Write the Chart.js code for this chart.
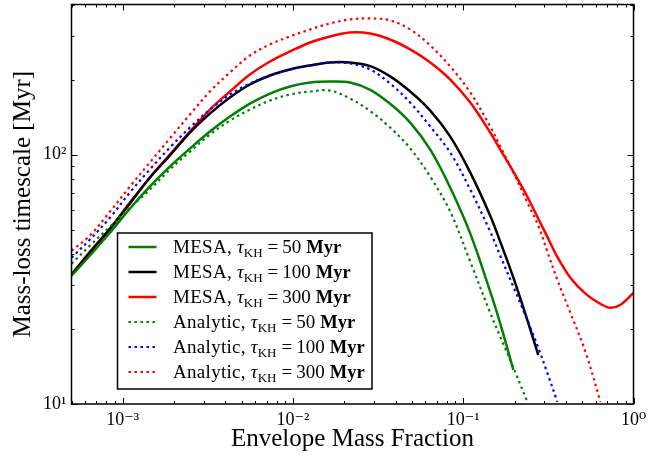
<!DOCTYPE html>
<html>
<head>
<meta charset="utf-8">
<script src="https://cdn.jsdelivr.net/npm/chart.js@4.4.1/dist/chart.umd.min.js"></script>
<style>
html, body { margin: 0; padding: 0; background: #fff; }
#wrap { width: 659px; height: 455px; }
</style>
</head>
<body>
<div id="wrap"><canvas id="massLoss"></canvas></div>
<script>
// envelope mass fraction (shared x grid for all curves)
const envFrac = [5.0e-4, 6.4e-4, 8.4e-4, 1.10e-3, 1.44e-3, 1.89e-3, 2.48e-3, 3.25e-3, 4.26e-3, 5.58e-3,
  7.32e-3, 9.6e-3, 0.0126, 0.0165, 0.0216, 0.0284, 0.0372, 0.0488, 0.064, 0.0839,
  0.110, 0.144, 0.165, 0.197, 0.238, 0.276, 0.312, 0.357, 0.426, 0.522,
  0.64, 0.733, 0.839, 1.0];

// mass-loss timescale [Myr]
const mesa50 = [32.7, 39.3, 48.6, 60.7, 74.4, 89.5, 105.7, 123.7, 142.1, 160.2,
  175.8, 187.6, 194.6, 196.4, 194.6, 182.0, 160.0, 134.4, 104.7, 73.7,
  48.2, 28.2, 21.0, 13.7, null, null, null, null, null, null,
  null, null, null, null];
const mesa100 = [33.0, 40.4, 50.4, 63.6, 80.8, 99.1, 122.6, 146.1, 169.4, 191.1,
  207.7, 219.5, 227.8, 234.2, 234.2, 226.5, 206.0, 179.1, 150.2, 118.1,
  84.7, 56.9, 44.7, 32.1, 21.7, 15.7, null, null, null, null,
  null, null, null, null];
const mesa300 = [33.0, 40.8, 50.4, 64.2, 80.8, 100, 123.7, 151.6, 179.1, 209.6,
  236.3, 259.2, 281.7, 297.8, 309.0, 306.2, 289.6, 264.1, 234.2, 200.1,
  161.7, 122.6, 104.7, 85.4, 67.8, 55.3, 46.8, 38.9, 32.1, 27.7,
  25.2, 24.3, 25.0, 27.9];
const analytic50 = [36.5, 43.1, 51.4, 61.2, 72.3, 87.1, 102.8, 120.3, 136.9, 151.6,
  164.8, 174.2, 179.1, 180.7, 168.0, 149.5, 128.4, 106.0, 81.6, 59.0,
  37.2, 23.2, 18.6, 14.0, 10.2, null, null, null, null, null,
  null, null, null, null];
const analytic100 = [38.6, 45.6, 55.8, 70.4, 87.1, 106.7, 128.4, 151.6, 174.2, 192.8,
  207.7, 219.5, 227.8, 234.2, 232.0, 219.5, 192.8, 161.7, 129.6, 101.9,
  72.3, 49.1, 39.3, 29.5, 21.7, 16.8, 13.3, 10.2, null, null,
  null, null, null, null];
const analytic300 = [41.2, 47.3, 59.0, 74.4, 92.9, 116.0, 144.8, 179.1, 213.5, 249.8,
  276.6, 297.8, 317.7, 335.8, 348.5, 351.8, 345.3, 317.7, 274.1, 225.6,
  177.5, 129.6, 107.7, 84.7, 64.2, 51.9, 40.8, 31.5, 23.2, 16.2,
  10.2, null, null, null];

const seriesNames = ['MESA', 'MESA', 'MESA', 'Analytic', 'Analytic', 'Analytic'];
const tauValues = ['50', '100', '300', '50', '100', '300'];

const xTickValues = [1e-3, 1e-2, 1e-1, 1];
const xTickLabels = ['10\u207B\u00B3', '10\u207B\u00B2', '10\u207B\u00B9', '10\u2070'];
const yTickValues = [10, 100];
const yTickLabels = ['10\u00B9', '10\u00B2'];

const SERIF = "'Liberation Serif', 'DejaVu Serif', serif";

function pts(ys) {
    return envFrac.map((x, i) => ({ x: x, y: ys[i] }));
}

// 1..9 x 10^n ticks inside [lo, hi]
function decadeTicks(lo, hi) {
    const out = [];
    for (let e = Math.floor(Math.log10(lo)); e <= Math.ceil(Math.log10(hi)); e++) {
        for (let k = 1; k < 10; k++) {
            const v = k * Math.pow(10, e);
            if (v >= lo * 0.999 && v <= hi * 1.001) out.push({ value: v });
        }
    }
    return out;
}

function labelFor(v, vals, labels) {
    for (let i = 0; i < vals.length; i++) {
        if (Math.abs(Math.log10(v) - Math.log10(vals[i])) < 1e-6) return labels[i];
    }
    return '';
}

function solid(label, color, ys) {
    return { label: label, data: pts(ys), borderColor: color, backgroundColor: color,
        borderWidth: 2.5, pointRadius: 0, tension: 0.35, fill: false, order: 2 };
}
function dotted(label, color, ys) {
    return { label: label, data: pts(ys), borderColor: color, backgroundColor: color,
        borderWidth: 2.2, borderDash: [2.5, 3.5], pointRadius: 0, tension: 0.35, fill: false, order: 1 };
}

// inward ticks on all four sides, frame, and the legend with subscripts
const framePlugin = {
    id: 'frame',
    afterDraw(chart) {
        const ctx = chart.ctx;
        const a = chart.chartArea;
        const xs = chart.scales.x, ys = chart.scales.y;
        ctx.save();
        ctx.strokeStyle = '#000';
        ctx.lineWidth = 1;
        ctx.beginPath();
        xs.ticks.forEach(t => {
            const major = labelFor(t.value, xTickValues, xTickLabels) !== '';
            const len = major ? 6 : 3;
            const px = Math.round(xs.getPixelForValue(t.value)) + 0.5;
            ctx.moveTo(px, a.bottom); ctx.lineTo(px, a.bottom - len);
            ctx.moveTo(px, a.top); ctx.lineTo(px, a.top + len);
        });
        ys.ticks.forEach(t => {
            const major = labelFor(t.value, yTickValues, yTickLabels) !== '';
            const len = major ? 6 : 3;
            const py = Math.round(ys.getPixelForValue(t.value)) + 0.5;
            ctx.moveTo(a.left, py); ctx.lineTo(a.left + len, py);
            ctx.moveTo(a.right, py); ctx.lineTo(a.right - len, py);
        });
        ctx.stroke();
        ctx.lineWidth = 1.5;
        ctx.strokeRect(a.left, a.top, a.right - a.left, a.bottom - a.top);

        // legend
        const lx = a.left + 46, ly = a.top + 228.5, lw = 254.5, lh = 156;
        ctx.fillStyle = '#fff';
        ctx.fillRect(lx, ly, lw, lh);
        ctx.lineWidth = 1.5;
        ctx.strokeStyle = '#000';
        ctx.strokeRect(lx, ly, lw, lh);

        chart.data.datasets.forEach((ds, i) => {
            const cy = ly + 14 + i * 25;
            ctx.beginPath();
            ctx.setLineDash(ds.borderDash || []);
            ctx.strokeStyle = ds.borderColor;
            ctx.lineWidth = ds.borderWidth;
            ctx.moveTo(lx + 11, cy);
            ctx.lineTo(lx + 39, cy);
            ctx.stroke();
            ctx.setLineDash([]);

            const base = cy + 6;
            let x = lx + 55.5;
            ctx.fillStyle = '#000';
            ctx.textBaseline = 'alphabetic';
            ctx.textAlign = 'left';
            const parts = [
                { t: seriesNames[i] + ',', f: '19px ' + SERIF, dy: 0, gap: 5, ls: '0.3px' },
                { t: '\u03C4', f: 'italic 19px ' + SERIF, dy: 0, gap: 0, ls: '0px' },
                { t: 'KH', f: '13px ' + SERIF, dy: 4, gap: 5, ls: '0px' },
                { t: '=', f: '19px ' + SERIF, dy: 0, gap: 4, ls: '0px' },
                { t: tauValues[i], f: '19px ' + SERIF, dy: 0, gap: 5, ls: '0px' },
                { t: 'Myr', f: 'bold 18.5px ' + SERIF, dy: 0, gap: 0, ls: '0px' }
            ];
            parts.forEach(p => {
                ctx.font = p.f;
                ctx.letterSpacing = p.ls;
                ctx.fillText(p.t, x, base + p.dy);
                x += ctx.measureText(p.t).width + p.gap;
            });
            ctx.letterSpacing = '0px';
        });
        ctx.restore();
    }
};

new Chart(document.getElementById('massLoss'), {
    type: 'line',
    data: {
        datasets: [
            solid('MESA 50', '#008000', mesa50),
            solid('MESA 100', '#000000', mesa100),
            solid('MESA 300', '#ff0000', mesa300),
            dotted('Analytic 50', '#008000', analytic50),
            dotted('Analytic 100', '#0000ff', analytic100),
            dotted('Analytic 300', '#ff0000', analytic300)
        ]
    },
    options: {
        responsive: true,
        maintainAspectRatio: false,
        animation: false,
        devicePixelRatio: 1,
        layout: { padding: { left: 0, right: 25.5, top: 4.5, bottom: 0 } },
        plugins: { legend: { display: false }, tooltip: { enabled: false } },
        scales: {
            x: {
                type: 'logarithmic',
                min: 5e-4,
                max: 1,
                afterBuildTicks: s => { s.ticks = decadeTicks(5e-4, 1); },
                afterFit: s => { s.height = 51; s.paddingLeft = 0; s.paddingRight = 0; },
                grid: { display: false, drawTicks: false },
                border: { display: false },
                ticks: {
                    autoSkip: false, maxRotation: 0, padding: 5, color: '#000',
                    font: { family: SERIF, size: 18 },
                    callback: v => labelFor(v, xTickValues, xTickLabels)
                },
                title: {
                    display: true, text: 'Envelope Mass Fraction', color: '#000',
                    font: { family: SERIF, size: 25 }, padding: { top: 0, bottom: 1 }
                }
            },
            y: {
                type: 'logarithmic',
                min: 10,
                max: 400,
                afterBuildTicks: s => { s.ticks = decadeTicks(10, 400); },
                afterFit: s => { s.width = 71.5; s.paddingTop = 0; s.paddingBottom = 0; },
                grid: { display: false, drawTicks: false },
                border: { display: false },
                ticks: {
                    autoSkip: false, padding: 5, color: '#000',
                    font: { family: SERIF, size: 18 },
                    callback: v => labelFor(v, yTickValues, yTickLabels)
                },
                title: {
                    display: true, text: 'Mass-loss timescale [Myr]', color: '#000',
                    font: { family: SERIF, size: 25 }, padding: { top: 8, bottom: 0 }
                }
            }
        }
    },
    plugins: [framePlugin]
});
</script>
</body>
</html>
